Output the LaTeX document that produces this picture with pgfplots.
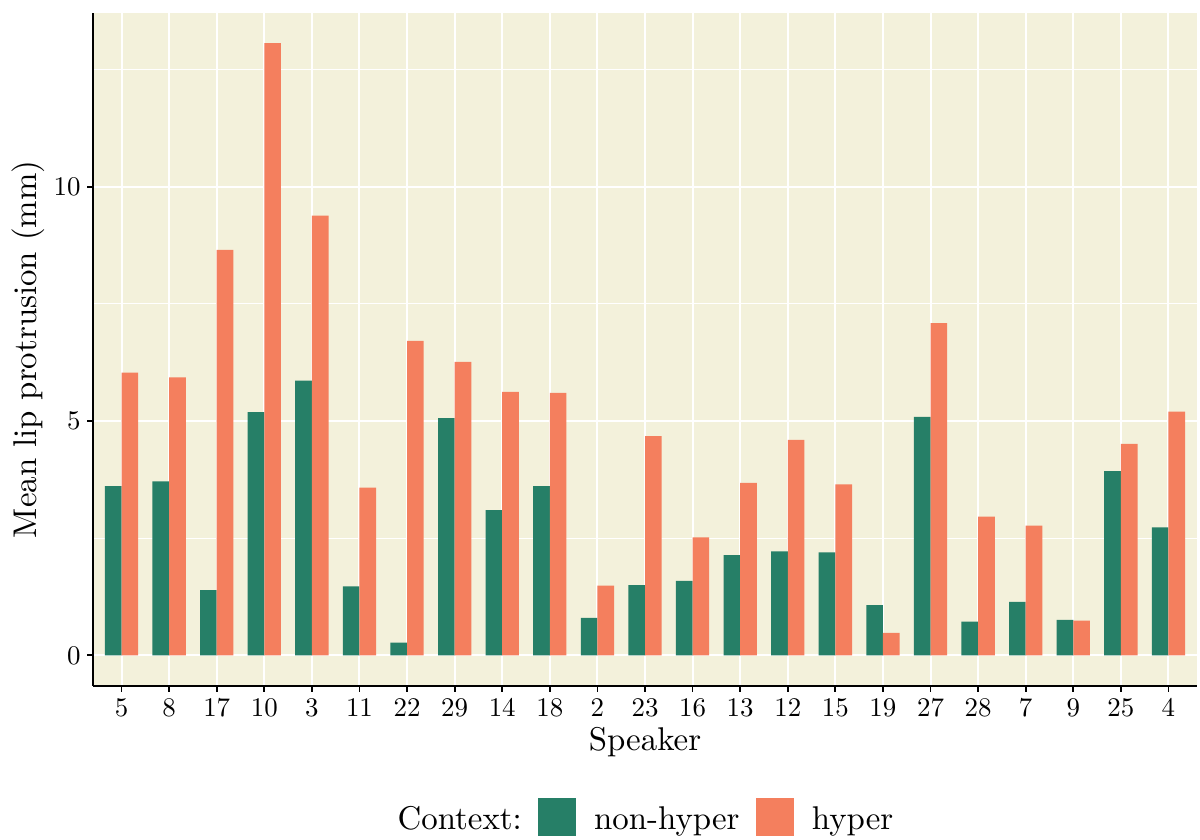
\documentclass[border=0pt]{standalone}
\usepackage{fontspec}
\setmainfont{lmroman10-regular.otf}
\usepackage{pgfplots}
\pgfplotsset{compat=1.18}
\usepackage{pgfplotstable}
\definecolor{panelbg}{HTML}{F3F1DB}
\definecolor{nhgreen}{HTML}{267F67}
\definecolor{hyorange}{HTML}{F47F5E}

\pgfplotstableread{
idx spk nh h
1 5 3.61 6.03
2 8 3.71 5.93
3 17 1.39 8.65
4 10 5.19 13.06
5 3 5.86 9.38
6 11 1.47 3.58
7 22 0.27 6.71
8 29 5.06 6.26
9 14 3.10 5.62
10 18 3.61 5.60
11 2 0.80 1.49
12 23 1.50 4.68
13 16 1.59 2.52
14 13 2.14 3.68
15 12 2.22 4.60
16 15 2.20 3.65
17 19 1.07 0.48
18 27 5.09 7.09
19 28 0.72 2.96
20 7 1.14 2.77
21 9 0.76 0.74
22 25 3.93 4.51
23 4 2.73 5.20
}\data

\begin{document}
\begin{tikzpicture}
\useasboundingbox (0,0) rectangle (600bp,420bp);
\begin{axis}[
  at={(46.5bp,77bp)}, anchor=south west,
  width=552bp, height=336.7bp, scale only axis,
  xmin=0.4, xmax=23.6, ymin=-0.653, ymax=13.713,
  xtick={1,...,23},
  xticklabels={5,8,17,10,3,11,22,29,14,18,2,23,16,13,12,15,19,27,28,7,9,25,4},
  ytick={0,5,10}, minor ytick={2.5,7.5,12.5},
  grid=both,
  major grid style={white, line width=1bp},
  minor grid style={white, line width=0.55bp},
  axis background/.style={fill=panelbg},
  axis x line*=bottom, axis y line*=left,
  axis line style={black, line width=0.9bp, -},
  tick align=outside, major tick length=2.75bp, minor tick length=0pt,
  tick style={black, line width=0.9bp},
  ticklabel style={font=\fontsize{13.5}{15}\selectfont},
  /pgf/number format/assume math mode=true,
  xlabel={Speaker}, ylabel={Mean lip protrusion (mm)},
  label style={font=\fontsize{16.5}{18}\selectfont},
  xlabel style={at={(axis description cs:0.5,-0.0839)}, anchor=center},
  ylabel style={at={(axis description cs:-0.0589,0.5)}, anchor=center},
  legend columns=-1,
  legend style={draw=none, fill=none, at={(axis description cs:0.4941,-0.1945)}, anchor=center,
    font=\fontsize{16.5}{18}\selectfont,
    /tikz/every odd column/.append style={column sep=7bp},
    /tikz/every even column/.append style={column sep=6.2bp}},
]
\addlegendimage{empty legend}
\addlegendentry{Context:}
\addplot[ybar, bar width=0.35, bar shift=-0.175, fill=nhgreen, draw=none,
  legend image code/.code={\fill[nhgreen] (0bp,-8.3bp) rectangle (19bp,10.7bp);}]
  table[x=idx, y=nh]{\data};
\addlegendentry{non-hyper}
\addplot[ybar, bar width=0.35, bar shift=0.175, fill=hyorange, draw=none,
  legend image code/.code={\fill[hyorange] (0bp,-8.3bp) rectangle (19bp,10.7bp);}]
  table[x=idx, y=h]{\data};
\addlegendentry{hyper}
\end{axis}
\end{tikzpicture}
\end{document}
